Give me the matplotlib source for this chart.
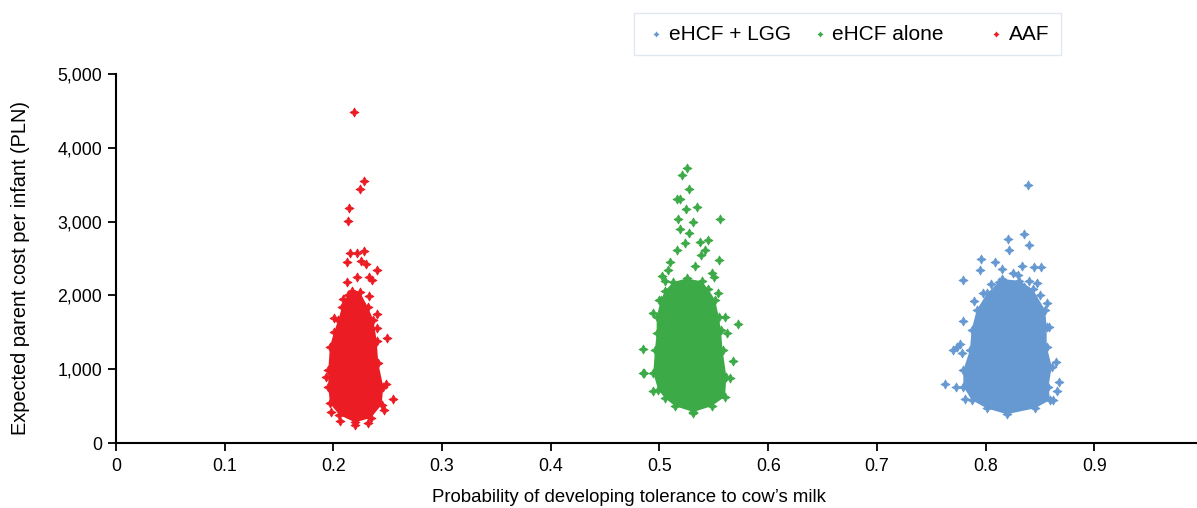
import matplotlib
matplotlib.use("Agg")
import matplotlib.pyplot as plt
from matplotlib.ticker import FuncFormatter

plt.rcParams['font.family'] = ['Liberation Sans', 'DejaVu Sans']

# ---- data ----
series_names = ["eHCF + LGG", "eHCF alone", "AAF"]
colors = ["#6699D2", "#3BAA47", "#EC1C24"]

# Dense-core envelopes (probability, cost) of each PSA cloud
lgg_core_x = [0.8150, 0.8310, 0.8435, 0.8547, 0.8562, 0.8562, 0.8609, 0.8578, 0.8593, 0.8455, 0.8194,
              0.8009, 0.7872, 0.7795, 0.7795, 0.7856, 0.7871, 0.7918, 0.8015]
lgg_core_y = [2220, 2200, 2080, 1802, 1576, 1305, 1034, 763, 583, 470, 390,
              470, 583, 763, 989, 1260, 1531, 1802, 2030]

alone_core_x = [0.5050, 0.5125, 0.5250, 0.5390, 0.5450, 0.5511, 0.5545, 0.5565, 0.5580, 0.5615, 0.5603,
                0.5480, 0.5311, 0.5142, 0.5050, 0.4989, 0.4943, 0.4958, 0.4974, 0.4974, 0.5013]
alone_core_y = [2060, 2180, 2230, 2190, 2080, 1938, 1712, 1531, 1260, 899, 628,
                500, 420, 500, 610, 718, 944, 1260, 1486, 1712, 1938]

aaf_core_x = [0.2168, 0.2245, 0.2315, 0.2368, 0.2398, 0.2413, 0.2459, 0.2444, 0.2345, 0.2199,
              0.2055, 0.1968, 0.1953, 0.1953, 0.1968, 0.2005, 0.2045, 0.2080, 0.2130]
aaf_core_y = [2060, 2040, 1847, 1667, 1387, 1080, 763, 520, 340, 280,
              380, 537, 763, 989, 1305, 1500, 1667, 1847, 2000]

# Individually visible simulations (outliers and sparse edge points)
lgg_x = [0.8387, 0.8356, 0.8209, 0.8399, 0.8215, 0.7958, 0.8087, 0.7948, 0.7789, 0.8332, 0.8448, 0.8507,
         0.8470, 0.8148, 0.7979, 0.7896, 0.7964, 0.7795, 0.7703, 0.7627, 0.7728, 0.7810, 0.8678, 0.8617,
         0.8562, 0.8586, 0.8250, 0.8300, 0.8050, 0.8400, 0.8500, 0.8020, 0.8120, 0.8350, 0.8650, 0.8660,
         0.7740, 0.7780, 0.7760]
lgg_y = [3500, 2832, 2760, 2678, 2611, 2497, 2453, 2344, 2209, 2398, 2381, 2381,
         2172, 2353, 2037, 1928, 1847, 1657, 1260, 795, 754, 592, 827, 583,
         1893, 1576, 2300, 2270, 2150, 2200, 2000, 1950, 2180, 2120, 1100, 700,
         1300, 1220, 1340]

alone_x = [0.5253, 0.5204, 0.5274, 0.5158, 0.5189, 0.5342, 0.5241, 0.5557, 0.5173, 0.5311, 0.5189, 0.5274,
           0.5443, 0.5373, 0.5235, 0.5419, 0.5547, 0.5158, 0.5020, 0.5725, 0.5679, 0.4851, 0.4851, 0.4943,
           0.4998, 0.5541, 0.5603, 0.5618, 0.5649, 0.5305, 0.5080, 0.5330, 0.5480, 0.5100, 0.5380, 0.5050,
           0.5500, 0.4857, 0.4943]
alone_y = [3731, 3627, 3446, 3302, 3302, 3202, 3166, 3035, 3035, 2999, 2895, 2850,
           2751, 2728, 2714, 2615, 2480, 2615, 2263, 1612, 1111, 1270, 953, 1766,
           1938, 2037, 1703, 1495, 885, 402, 2350, 2400, 2300, 2450, 2550, 2200,
           2250, 944, 706]

aaf_x = [0.2192, 0.2284, 0.2248, 0.2146, 0.2137, 0.2153, 0.2214, 0.2284, 0.2122, 0.2254, 0.2297, 0.2398,
         0.2331, 0.2220, 0.2122, 0.2355, 0.2490, 0.2545, 0.2060, 0.2199, 0.2321, 0.2090, 0.2330, 0.2010,
         0.2400, 0.2035, 0.2400, 0.1930, 0.2480, 0.1980, 0.2470]
aaf_y = [4489, 3554, 3438, 3188, 3008, 2579, 2570, 2598, 2448, 2470, 2421, 2340,
         2253, 2253, 2177, 2209, 1418, 596, 298, 244, 267, 1950, 1990, 1700,
         1750, 1500, 1560, 900, 800, 420, 450]

x_ticks = [0, 0.1, 0.2, 0.3, 0.4, 0.5, 0.6, 0.7, 0.8, 0.9, 1]
y_ticks = [0, 1000, 2000, 3000, 4000, 5000]

# ---- figure ----
fig = plt.figure(figsize=(11.97, 5.08), dpi=100)
ax = fig.add_axes([116 / 1197, 65 / 508, 1087 / 1197, 369 / 508])

marker = (4, 1, 0)
ms = 42
cores = [(lgg_core_x, lgg_core_y), (alone_core_x, alone_core_y), (aaf_core_x, aaf_core_y)]
points = [(lgg_x, lgg_y), (alone_x, alone_y), (aaf_x, aaf_y)]
legend_labels = ["eHCF + LGG", "eHCF alone    ", "AAF"]
for (cx, cy), (px, py), c, name in zip(cores, points, colors, legend_labels):
    ax.fill(cx, cy, color=c, lw=0, zorder=2)
    ax.scatter(cx, cy, s=ms, marker=marker, color=c, lw=0.6, edgecolor=c, zorder=3)
    ax.scatter(px, py, s=ms, marker=marker, color=c, lw=0.6, edgecolor=c, zorder=3, label=name)

ax.set_xlim(0, 1)
ax.set_ylim(0, 5000)
ax.set_xticks(x_ticks)
ax.set_yticks(y_ticks)
ax.xaxis.set_major_formatter(FuncFormatter(lambda v, p: "0" if v == 0 else ("1" if v == 1 else f"{v:.1f}")))
ax.yaxis.set_major_formatter(FuncFormatter(lambda v, p: f"{int(v):,}"))
for s in ["top", "right"]:
    ax.spines[s].set_visible(False)
for s in ["left", "bottom"]:
    ax.spines[s].set_linewidth(1.5)
    ax.spines[s].set_color("black")
ax.tick_params(axis="both", direction="out", length=6, width=1.3, labelsize=12.8, colors="black")
ax.tick_params(axis="x", pad=5)
ax.tick_params(axis="y", pad=4)

ax.set_xlabel("Probability of developing tolerance to cow\u2019s milk", fontsize=13.4)
ax.xaxis.set_label_coords((629 - 116) / 1087, -0.125)
ax.set_ylabel("Expected parent cost per infant (PLN)", fontsize=14.4)
ax.yaxis.set_label_coords((30 - 116) / 1087, 0.4756)

leg = fig.legend(loc="center", bbox_to_anchor=(847.5 / 1197, 1 - 34 / 508), ncol=3, fontsize=15,
                 frameon=True, fancybox=False, markerscale=0.55, handletextpad=0.1,
                 columnspacing=0.9, handlelength=1.0, borderpad=0.55)
leg.get_frame().set_edgecolor("#D9E2EE")
leg.get_frame().set_linewidth(1.0)

fig.savefig("out.png", dpi=100)
